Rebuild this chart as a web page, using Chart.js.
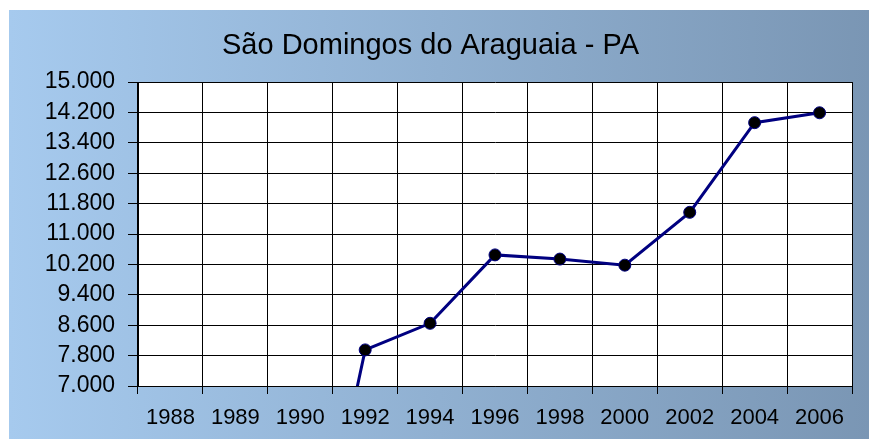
<!DOCTYPE html>
<html>
<head>
<meta charset="utf-8">
<script src="https://cdn.jsdelivr.net/npm/chart.js@4/dist/chart.umd.min.js"></script>
<style>
  html, body { margin: 0; padding: 0; background: #fff; }
  #panel {
    position: absolute; left: 9px; top: 10px; width: 860px; height: 429px;
    background: linear-gradient(to right, rgb(166,202,238), rgb(122,150,180));
  }
</style>
</head>
<body>
<div id="panel"><canvas id="popChart" width="860" height="429"></canvas></div>
<script>
// população por ano
const anos = ['1988', '1989', '1990', '1992', '1994', '1996', '1998', '2000', '2002', '2004', '2006'];
const populacao = [0, 0, 0, 7950, 8650, 10450, 10340, 10180, 11570, 13930, 14190];
const yTicks = [7000, 7800, 8600, 9400, 10200, 11000, 11800, 12600, 13400, 14200, 15000];

const fonte = 'Liberation Sans, Arial, sans-serif';

// fundo branco da área de plotagem
const plotBg = {
  id: 'plotBg',
  beforeDraw(chart) {
    const a = chart.chartArea;
    chart.ctx.save();
    chart.ctx.fillStyle = '#fff';
    chart.ctx.fillRect(a.left, a.top, a.right - a.left, a.bottom - a.top);
    chart.ctx.restore();
  }
};

const fmt = v => String(v).replace(/\B(?=(\d{3})+(?!\d))/g, '.');

new Chart(document.getElementById('popChart'), {
  type: 'line',
  data: {
    labels: anos,
    datasets: [{
      data: populacao,
      borderColor: '#000080',
      borderWidth: 3,
      backgroundColor: '#000',
      pointBackgroundColor: '#000',
      pointBorderColor: '#000080',
      pointBorderWidth: 1,
      pointRadius: 6,
      tension: 0,
      fill: false
    }]
  },
  options: {
    responsive: false,
    animation: false,
    layout: { padding: { top: 0, right: 17, bottom: 0, left: 0 } },
    plugins: {
      legend: { display: false },
      tooltip: { enabled: false },
      title: {
        display: true,
        text: 'São Domingos do Araguaia - PA',
        color: '#000',
        font: { family: fonte, size: 29, weight: 'normal' },
        padding: { top: 19, bottom: 18.2 }
      }
    },
    scales: {
      x: {
        offset: true,
        grid: { offset: true, color: '#000', lineWidth: 1, tickLength: 8 },
        border: { color: '#000', width: 1 },
        ticks: { color: '#000', font: { family: fonte, size: 22 }, padding: 11, maxRotation: 0, autoSkip: false },
        afterFit: s => { s.height = 53; }
      },
      y: {
        min: 7000,
        max: 15000,
        afterBuildTicks: s => { s.ticks = yTicks.map(v => ({ value: v })); },
        grid: { color: '#000', lineWidth: 1, tickLength: 10 },
        border: { color: '#000', width: 1 },
        ticks: { color: '#000', font: { family: fonte, size: 23 }, padding: 13, autoSkip: false, callback: v => fmt(v) },
        afterFit: s => { s.width = 129; }
      }
    }
  },
  plugins: [plotBg]
});
</script>
</body>
</html>
